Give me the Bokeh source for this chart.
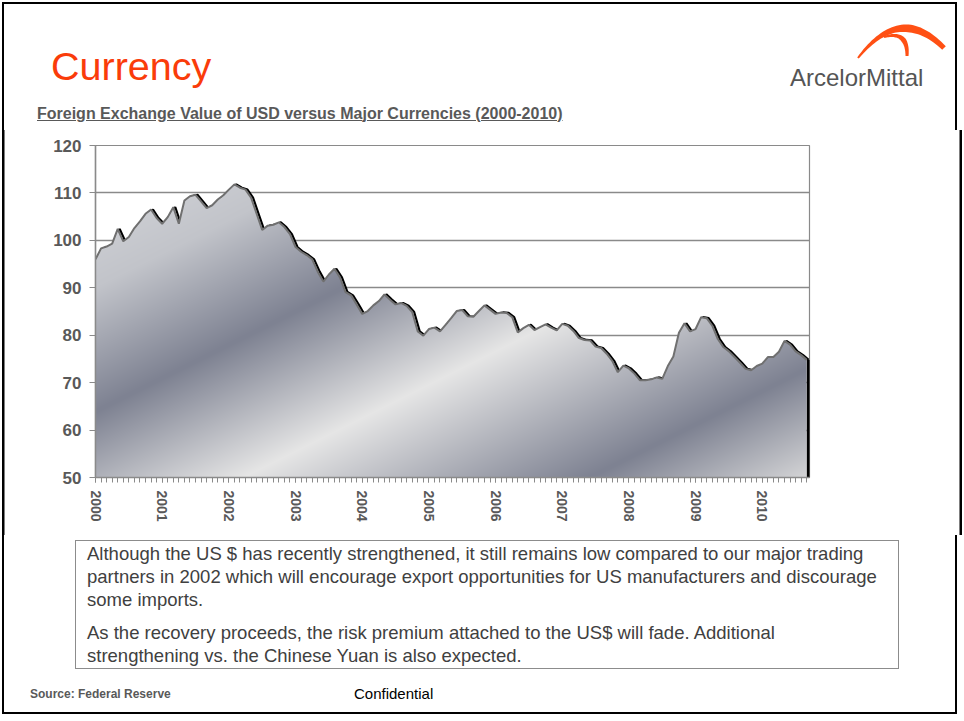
import math
import numpy as np
from bokeh.plotting import figure
from bokeh.layouts import column
from bokeh.models import Range1d, FixedTicker, Div
from bokeh.embed import file_html
from bokeh.resources import INLINE

# ---------------- data (monthly, Jan 2000 .. Sep 2010) ----------------
usd_index = [
    96.0, 98.3, 98.7, 99.3, 102.4, 99.8, 100.7, 102.6, 104.0, 105.6, 106.5, 104.7,   # 2000
    103.5, 104.9, 107.0, 103.5, 108.4, 109.3, 109.6, 108.2, 106.8, 107.4, 108.6, 109.5,  # 2001
    110.7, 111.8, 111.1, 110.7, 109.0, 105.6, 102.2, 103.1, 103.3, 103.8, 102.8, 101.3,  # 2002
    98.6, 97.6, 96.9, 96.0, 93.4, 91.3, 92.8, 94.0, 92.2, 89.1, 88.4, 86.5,             # 2003
    84.5, 85.1, 86.3, 87.2, 88.6, 87.5, 86.5, 86.8, 86.2, 84.9, 80.8, 79.9,             # 2004
    81.3, 81.6, 80.8, 82.2, 83.6, 85.1, 85.3, 84.0, 83.9, 85.1, 86.3, 85.4,             # 2005
    84.5, 84.8, 84.7, 83.8, 80.6, 81.5, 82.2, 81.1, 81.7, 82.3, 81.6, 81.0,             # 2006
    82.4, 82.0, 80.9, 79.4, 79.0, 78.9, 77.6, 77.3, 76.1, 74.6, 72.2, 73.6,             # 2007
    73.0, 71.9, 70.5, 70.5, 70.7, 71.1, 70.8, 73.5, 75.5, 80.5, 82.5, 80.8,             # 2008
    81.3, 83.8, 83.6, 82.0, 79.2, 77.5, 76.6, 75.4, 74.2, 72.9, 72.6, 73.5,             # 2009
    74.0, 75.4, 75.4, 76.5, 78.8, 78.0, 76.6, 75.8, 74.8,                               # 2010
]
year_labels = ["2000", "2001", "2002", "2003", "2004", "2005",
               "2006", "2007", "2008", "2009", "2010"]
y_ticks = [50, 60, 70, 80, 90, 100, 110, 120]

title_text = "Currency"
subtitle_text = "Foreign Exchange Value of USD versus Major Currencies (2000-2010)"
body_lines = [
    "Although the US $ has recently strengthened, it still remains low compared to our major trading",
    "partners in 2002 which will encourage export opportunities for US manufacturers and discourage",
    "some imports.",
    "As the recovery proceeds, the risk premium attached to the US$ will fade. Additional",
    "strengthening vs. the Chinese Yuan is also expected.",
]
source_text = "Source: Federal Reserve"
confidential_text = "Confidential"
logo_text = "ArcelorMittal"

months = list(range(len(usd_index)))
year_ticks = [12 * i for i in range(len(year_labels))]

FONT = "Liberation Sans"
W = 964
H_HEAD, H_CHART, H_FOOT = 130, 405, 186
FF = "font-family:'Liberation Sans',Arial,sans-serif;"


def span(left, baseline, text, size, color, extra=""):
    top = baseline - 0.8465 * size
    return (f'<div style="position:absolute;left:{left}px;top:{top:.1f}px;white-space:nowrap;'
            f'{FF}font-size:{size}px;line-height:{size}px;color:{color};{extra}">{text}</div>')


def stroke(P0, P1, P2, w0, wm, w1, n=40):
    tt = np.linspace(0, 1, n)
    P0, P1, P2 = map(np.array, (P0, P1, P2))
    pts = ((1 - tt)[:, None] ** 2) * P0 + (2 * (1 - tt) * tt)[:, None] * P1 + (tt[:, None] ** 2) * P2
    d = 2 * (1 - tt)[:, None] * (P1 - P0) + 2 * tt[:, None] * (P2 - P1)
    nrm = np.stack([-d[:, 1], d[:, 0]], axis=1)
    nrm /= np.linalg.norm(nrm, axis=1)[:, None]
    w = np.where(tt < 0.6, w0 + (wm - w0) * tt / 0.6, wm + (w1 - wm) * (tt - 0.6) / 0.4) / 2
    poly = np.vstack([pts + nrm * w[:, None], (pts - nrm * w[:, None])[::-1]])
    return " ".join(f"{x:.1f},{y:.1f}" for x, y in poly)


# ---------------- header (HTML) ----------------
logo_polys = "".join(
    f'<polygon points="{stroke(*s)}" fill="#ff5014"/>'
    for s in [((858, 58), (900, 4), (944, 48), 2, 8, 5),
              ((884, 37), (908, 30), (907, 56), 2, 5, 3)])
head_html = (
    f'<div style="position:relative;width:{W}px;height:{H_HEAD}px;overflow:hidden;background:#fff;">'
    f'<div style="position:absolute;left:2px;top:2px;width:955px;height:200px;border:2.5px solid #000;"></div>'
    f'<svg width="{W}" height="{H_HEAD}" style="position:absolute;left:0;top:0;">{logo_polys}</svg>'
    + span(51, 80, title_text, 39.5, "#fa3c0a")
    + span(37, 119, subtitle_text, 16, "#595959", "font-weight:bold;text-decoration:underline;")
    + span(790, 86, logo_text, 24, "#555555")
    + '</div>'
)
head = Div(text=head_html, width=W, height=H_HEAD, styles={"margin": "0", "padding": "0"})

# ---------------- chart ----------------
X_END = 128.5
p = figure(width=W, height=H_CHART, x_range=Range1d(0, X_END), y_range=Range1d(50, 120),
           output_backend="svg", toolbar_location=None,
           min_border_left=95, min_border_right=155, min_border_top=15, min_border_bottom=58,
           styles={"box-shadow": "inset 2px 0 0 0 #fff, inset -2px 0 0 0 #fff, "
                                 "inset 4.5px 0 0 0 #000, inset -4.5px 0 0 0 #000"})
p.background_fill_color = "white"
p.border_fill_color = None
p.outline_line_color = "#8a8a8a"
p.outline_line_width = 1.2

p.xgrid.grid_line_color = None
p.ygrid.grid_line_color = "#8a8a8a"
p.ygrid.grid_line_width = 1.3

p.yaxis.ticker = FixedTicker(ticks=y_ticks)
p.yaxis.axis_line_color = "#8a8a8a"
p.yaxis.axis_line_width = 1.5
p.yaxis.major_tick_line_color = "#8a8a8a"
p.yaxis.major_tick_out = 6
p.yaxis.major_tick_in = 0
p.yaxis.minor_tick_line_color = None
p.yaxis.major_label_text_font = FONT
p.yaxis.major_label_text_font_style = "bold"
p.yaxis.major_label_text_font_size = "17px"
p.yaxis.major_label_text_color = "#595959"
p.yaxis.major_label_standoff = 8

p.xaxis.ticker = FixedTicker(ticks=year_ticks, minor_ticks=months)
p.xaxis.major_label_overrides = {t: lab for t, lab in zip(year_ticks, year_labels)}
p.xaxis.axis_line_color = "#8a8a8a"
p.xaxis.axis_line_width = 1.5
p.xaxis.major_tick_line_color = "#8a8a8a"
p.xaxis.minor_tick_line_color = "#8a8a8a"
p.xaxis.major_tick_out = 5
p.xaxis.major_tick_in = 0
p.xaxis.minor_tick_out = 5
p.xaxis.minor_tick_in = 0
p.xaxis.major_label_orientation = -math.pi / 2
p.xaxis.major_label_text_font = FONT
p.xaxis.major_label_text_font_style = "bold"
p.xaxis.major_label_text_font_size = "14px"
p.xaxis.major_label_text_color = "#595959"
p.xaxis.major_label_standoff = 8

# shadow line (drawn first, mostly hidden by the fill)
p.line([m + 0.35 for m in months], usd_index, line_color="black", line_width=2.2)
p.segment(x0=[months[-1] + 0.3], y0=[50], x1=[months[-1] + 0.3], y1=[usd_index[-1]],
          line_color="black", line_width=3.5)

# gradient fill under the curve (styling raster)
NC, NR = 714, 332
cols = (np.arange(NC) + 0.5) / NC
rows = (np.arange(NR) + 0.5) / NR
xd = cols * X_END
yd = 50 + rows * 70
sx = 95 + cols * 714
sy = 477 - rows * 332
SX, SY = np.meshgrid(sx, sy)
t = 0.447 * SX + 0.894 * SY
stops_t = [160, 300, 410, 535, 690, 800]
stops_c = [(0xdd, 0xde, 0xe1), (0xc2, 0xc4, 0xca), (0x7e, 0x82, 0x92), (0xe6, 0xe6, 0xe6),
           (0x7e, 0x82, 0x92), (0xe0, 0xe0, 0xe0)]
r = np.interp(t, stops_t, [c[0] for c in stops_c]).astype(np.uint32)
g = np.interp(t, stops_t, [c[1] for c in stops_c]).astype(np.uint32)
b = np.interp(t, stops_t, [c[2] for c in stops_c]).astype(np.uint32)
curve = np.interp(xd, months, usd_index)
XD, YD = np.meshgrid(xd, yd)
CURVE = np.meshgrid(curve, yd)[0]
inside = (YD <= CURVE) & (XD <= months[-1])
a = np.where(inside, 255, 0).astype(np.uint32)
img = (a << 24) | (b << 16) | (g << 8) | r
p.image_rgba(image=[img], x=0, y=50, dw=X_END, dh=70)

p.line(months, usd_index, line_color="#707070", line_width=2)

# ---------------- footer (HTML) ----------------
Y0 = H_HEAD + H_CHART
foot_html = (
    f'<div style="position:relative;width:{W}px;height:{H_FOOT}px;overflow:hidden;background:#fff;">'
    f'<div style="position:absolute;left:2px;top:-20px;width:955px;height:{H_FOOT + 20 - 2 - 5}px;border:2.5px solid #000;"></div>'
    f'<div style="position:absolute;left:75px;top:{540 - Y0}px;width:824px;height:129px;border:1.5px solid #8c8c8c;"></div>'
    + "".join(span(87, bl - Y0, s, 18.5, "#404040")
              for s, bl in zip(body_lines, [561, 584, 607, 640, 663]))
    + span(30, 698 - Y0, source_text, 12, "#595959", "font-weight:bold;")
    + span(354, 699 - Y0, confidential_text, 15, "#000000")
    + '</div>'
)
foot = Div(text=foot_html, width=W, height=H_FOOT, styles={"margin": "0", "padding": "0"})

page = column(head, p, foot, spacing=0)
open("out.html", "w").write(file_html(page, INLINE))
